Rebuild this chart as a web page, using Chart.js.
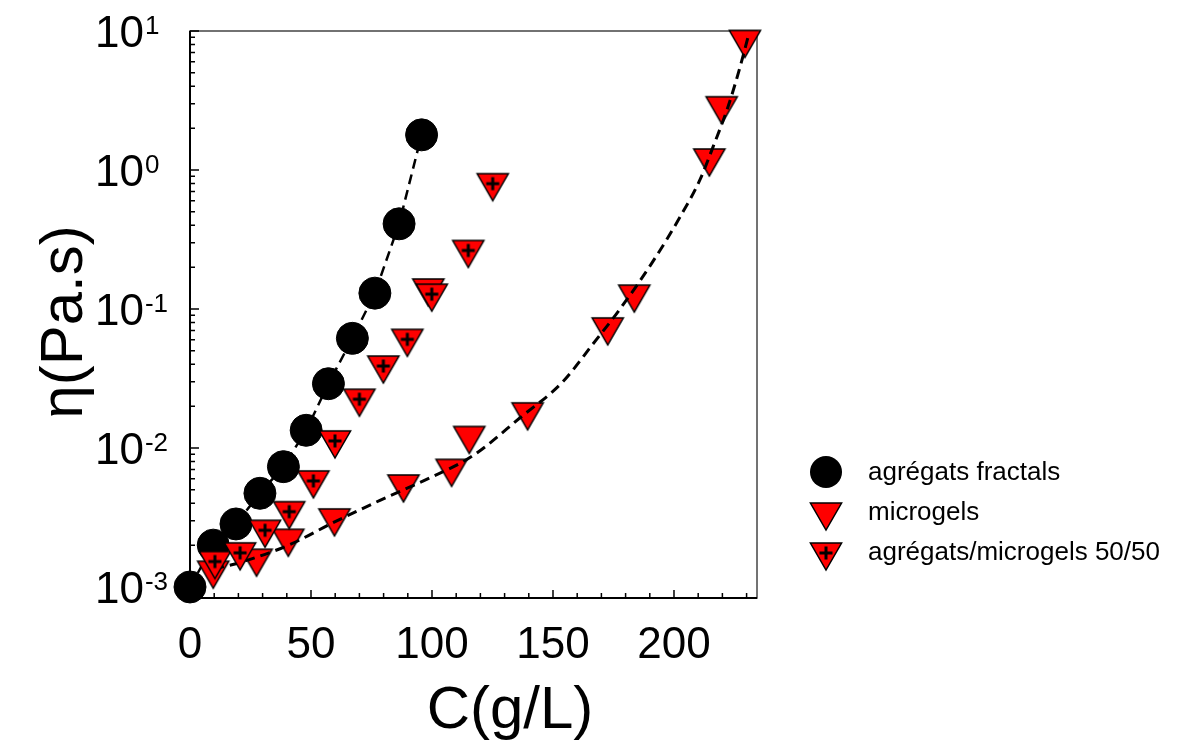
<!DOCTYPE html>
<html>
<head>
<meta charset="utf-8">
<script src="https://cdn.jsdelivr.net/npm/chart.js@4.4.1/dist/chart.umd.min.js"></script>
<style>
  body { margin: 0; background: #fff; }
  canvas { display: block; }
</style>
</head>
<body>
<canvas id="viscosityChart" width="1177" height="745"></canvas>
<script>
// agrégats fractals (circles, joined by a dashed line)
const fractalC = [0, 9.6, 19, 28.9, 38.6, 48, 57.2, 67.1, 76.4, 86.4, 95.7];
const fractalEta = [0.001, 0.0020, 0.00284, 0.00472, 0.00734, 0.0134, 0.029, 0.0615, 0.13, 0.41, 1.79];

// microgels (plain triangles)
const microgelC = [9.6, 27.5, 40.6, 59.7, 88.2, 98.5, 108.1, 115.4, 139.5, 172.6, 183.6, 214.6, 219.7, 229.3];
const microgelEta = [0.00132, 0.00161, 0.00224, 0.00314, 0.00551, 0.1416, 0.00714, 0.0123, 0.0182, 0.0743, 0.128, 1.22, 2.9, 8.7];

// agrégats/microgels 50/50 (triangles with a cross)
const mixC = [10.3, 20.7, 31, 41, 51, 59.9, 70, 79.9, 89.8, 99.9, 115, 125.1];
const mixEta = [0.00155, 0.00179, 0.0026, 0.00354, 0.00589, 0.01143, 0.0228, 0.0395, 0.0615, 0.130, 0.268, 0.811];

// dashed curve along the microgels
const fitC = [10, 20.7, 41.3, 59.1, 78.5, 99.2, 116.9, 136.4, 154.1, 166.5, 177.7, 191.3, 202.5, 210.7, 216.1, 222.3, 227.3, 230.6];
const fitEta = [0.00135, 0.00150, 0.00202, 0.00290, 0.00420, 0.00610, 0.00880, 0.0165, 0.0300, 0.0560, 0.100, 0.220, 0.459, 0.848, 1.46, 2.84, 5.51, 9.05];

const xTicks = [0, 50, 100, 150, 200];
const yDecades = [-3, -2, -1, 0, 1];
const legendLabels = ['agrégats fractals', 'microgels', 'agrégats/microgels 50/50'];

const FONT = "'Liberation Sans', Arial, sans-serif";

function toPoints(xs, ys) {
  return xs.map((x, i) => ({ x: x, y: ys[i] }));
}

function makeTriangle(withPlus) {
  const c = document.createElement('canvas');
  c.width = 40;
  c.height = 40;
  const g = c.getContext('2d');
  const r = 18, cx = 20, cy = 20;
  g.beginPath();
  g.moveTo(cx - r * 0.866, cy - r / 2);
  g.lineTo(cx + r * 0.866, cy - r / 2);
  g.lineTo(cx, cy + r);
  g.closePath();
  g.fillStyle = '#ff0000';
  g.fill();
  g.lineWidth = 1.5;
  g.strokeStyle = '#000';
  g.stroke();
  if (withPlus) {
    g.beginPath();
    g.moveTo(cx - 6.5, cy + 1);
    g.lineTo(cx + 6.5, cy + 1);
    g.moveTo(cx, cy - 5.5);
    g.lineTo(cx, cy + 7.5);
    g.lineWidth = 3;
    g.stroke();
  }
  return c;
}

const plainTriangle = makeTriangle(false);
const crossTriangle = makeTriangle(true);

const framePlugin = {
  id: 'frame',
  beforeDatasetsDraw(chart) {
    const ctx = chart.ctx;
    const a = chart.chartArea;
    const xs = chart.scales.x;
    const ys = chart.scales.y;
    ctx.save();
    // box
    ctx.strokeStyle = '#444';
    ctx.lineWidth = 1.5;
    ctx.strokeRect(a.left, a.top, a.right - a.left, a.bottom - a.top);
    ctx.strokeStyle = '#000';
    ctx.lineWidth = 2;
    ctx.beginPath();
    ctx.moveTo(a.left, a.top);
    ctx.lineTo(a.left, a.bottom);
    ctx.lineTo(a.right, a.bottom);
    ctx.stroke();
    // x ticks, every 10, pointing in
    ctx.lineWidth = 1.5;
    ctx.beginPath();
    for (let v = 0; v <= xs.max; v += 10) {
      const px = xs.getPixelForValue(v);
      const len = v % 50 === 0 ? 8 : 5;
      ctx.moveTo(px, a.bottom);
      ctx.lineTo(px, a.bottom - len);
    }
    // y ticks, log minors
    for (let d = -4; d <= 1; d++) {
      for (let m = 1; m <= 9; m++) {
        const v = m * Math.pow(10, d);
        if (v < ys.min || v > ys.max * 1.0001) continue;
        const py = ys.getPixelForValue(v);
        const len = m === 1 ? 9 : 5;
        ctx.moveTo(a.left, py);
        ctx.lineTo(a.left + len, py);
      }
    }
    ctx.stroke();
    ctx.restore();
  },
  afterDraw(chart) {
    const ctx = chart.ctx;
    const xs = chart.scales.x;
    const ys = chart.scales.y;
    ctx.save();
    ctx.fillStyle = '#000';
    // x tick labels
    ctx.font = '44px ' + FONT;
    ctx.textAlign = 'center';
    ctx.textBaseline = 'alphabetic';
    xTicks.forEach(v => ctx.fillText(String(v), xs.getPixelForValue(v), 658));
    // y tick labels 10^n
    yDecades.forEach(d => {
      const py = ys.getPixelForValue(Math.pow(10, d));
      ctx.font = '44px ' + FONT;
      ctx.textAlign = 'left';
      ctx.fillText('10', 95, py + 16);
      const w = ctx.measureText('10').width;
      ctx.font = '26px ' + FONT;
      ctx.fillText(d < 0 ? '-' + Math.abs(d) : String(d), 95 + w + 1, py + 3);
    });
    // axis titles
    ctx.font = '60px ' + FONT;
    ctx.textAlign = 'center';
    ctx.fillText('C(g/L)', 510, 728);
    ctx.save();
    ctx.translate(82, 322);
    ctx.rotate(-Math.PI / 2);
    ctx.fillText('η(Pa.s)', 0, 0);
    ctx.restore();
    // legend
    const rows = [472, 512, 552];
    ctx.font = '26px ' + FONT;
    ctx.textAlign = 'left';
    ctx.textBaseline = 'middle';
    ctx.beginPath();
    ctx.arc(826, rows[0], 16, 0, Math.PI * 2);
    ctx.fill();
    ctx.drawImage(plainTriangle, 826 - 20, rows[1] - 20);
    ctx.drawImage(crossTriangle, 826 - 20, rows[2] - 20);
    legendLabels.forEach((t, i) => ctx.fillText(t, 868, rows[i] + 1));
    ctx.restore();
  }
};

const chart = new Chart(document.getElementById('viscosityChart'), {
  type: 'scatter',
  data: {
    datasets: [{
      label: legendLabels[0],
      data: toPoints(fractalC, fractalEta),
      showLine: true,
      borderColor: '#000',
      borderWidth: 2.5,
      borderDash: [10, 6],
      pointStyle: 'circle',
      pointRadius: 16,
      pointBackgroundColor: '#000',
      pointBorderColor: '#000',
      pointBorderWidth: 1,
      clip: false,
      order: 4
    }, {
      label: legendLabels[1],
      data: toPoints(microgelC, microgelEta),
      pointStyle: plainTriangle,
      pointRadius: 18,
      clip: false,
      order: 3
    }, {
      label: 'fit',
      data: toPoints(fitC, fitEta),
      showLine: true,
      borderColor: '#000',
      borderWidth: 3,
      borderDash: [10, 6],
      cubicInterpolationMode: 'monotone',
      pointRadius: 0,
      clip: false,
      order: 2
    }, {
      label: legendLabels[2],
      data: toPoints(mixC, mixEta),
      pointStyle: crossTriangle,
      pointRadius: 18,
      clip: false,
      order: 1
    }]
  },
  options: {
    responsive: false,
    animation: false,
    layout: {
      padding: { left: 190, top: 31, right: 420, bottom: 147 }
    },
    plugins: {
      legend: { display: false },
      tooltip: { enabled: false }
    },
    scales: {
      x: { type: 'linear', min: 0, max: 234.3, display: false },
      y: { type: 'logarithmic', min: 0.000833, max: 10, display: false }
    }
  },
  plugins: [framePlugin]
});
</script>
</body>
</html>
